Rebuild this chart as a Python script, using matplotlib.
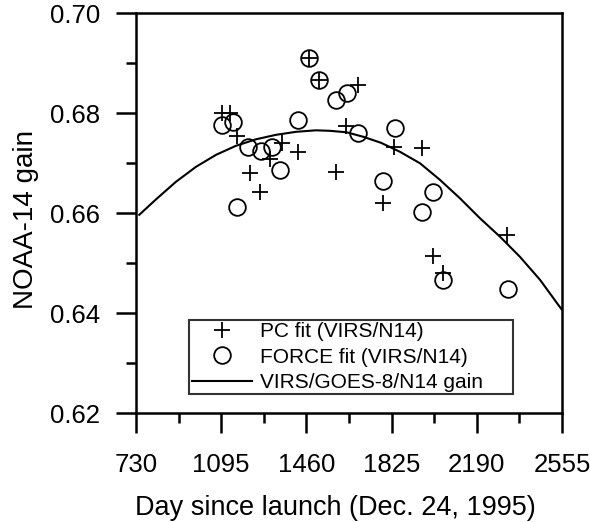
import matplotlib
matplotlib.use('Agg')
import matplotlib.pyplot as plt
from matplotlib.ticker import MultipleLocator

# PC fit (VIRS/N14)
pc_day = [1097, 1131, 1161, 1218, 1262, 1304, 1354, 1426, 1471, 1514,
          1588, 1628, 1680, 1790, 1836, 1955, 2003, 2047, 2320]
pc_gain = [0.6800, 0.6800, 0.6755, 0.6680, 0.6642, 0.6708, 0.6740, 0.6723, 0.6910, 0.6867,
           0.6683, 0.6774, 0.6857, 0.6620, 0.6732, 0.6731, 0.6515, 0.6481, 0.6556]

# FORCE fit (VIRS/N14)
force_day = [1097, 1144, 1161, 1211, 1264, 1311, 1347, 1423, 1471, 1514,
             1585, 1633, 1679, 1790, 1840, 1955, 2004, 2047, 2325]
force_gain = [0.6777, 0.6782, 0.6613, 0.6732, 0.6725, 0.6732, 0.6687, 0.6787, 0.6910, 0.6867,
              0.6827, 0.6840, 0.6761, 0.6664, 0.6771, 0.6603, 0.6643, 0.6467, 0.6448]

# VIRS/GOES-8/N14 gain curve
curve_day = [744, 816, 901, 987, 1073, 1158, 1244, 1330, 1416, 1501,
             1561, 1633, 1704, 1780, 1861, 1947, 2032, 2118, 2204, 2290,
             2375, 2461, 2539, 2555]
curve_gain = [0.6597, 0.6628, 0.6663, 0.6693, 0.6717, 0.6735, 0.6748, 0.6757, 0.6763, 0.6766,
              0.6765, 0.6762, 0.6753, 0.6741, 0.6723, 0.6700, 0.6667, 0.6630, 0.6590, 0.6553,
              0.6513, 0.6467, 0.6417, 0.6407]

x_ticks = [730, 1095, 1460, 1825, 2190, 2555]
y_ticks = [0.62, 0.64, 0.66, 0.68, 0.70]

plt.rcParams['font.family'] = ['Liberation Sans', 'DejaVu Sans']

fig = plt.figure(figsize=(5.9, 5.22), dpi=100)
ax = fig.add_axes([0.2305, 0.2082, 0.722, 0.7663])

ax.plot(curve_day, curve_gain, color='black', lw=1.5, label='VIRS/GOES-8/N14 gain')
ax.plot(pc_day, pc_gain, ls='none', marker='+', ms=11, mew=1.3, color='black',
        label='PC fit (VIRS/N14)')
ax.plot(force_day, force_gain, ls='none', marker='o', ms=12, mew=1.3, mfc='none',
        mec='black', label='FORCE fit (VIRS/N14)')

ax.set_xlim(730, 2555)
ax.set_ylim(0.62, 0.70)
ax.set_xticks(x_ticks)
ax.set_yticks(y_ticks)
ax.xaxis.set_minor_locator(MultipleLocator(182.5))
ax.yaxis.set_minor_locator(MultipleLocator(0.01))
ax.set_xticklabels([str(t) for t in x_ticks])
ax.set_yticklabels(['%.2f' % t for t in y_ticks])

ax.tick_params(which='major', direction='out', length=14.4, width=1.8, labelsize=18.5)
ax.tick_params(which='minor', direction='out', length=7.2, width=1.8)
ax.tick_params(axis='x', which='major', pad=14)
ax.tick_params(axis='y', which='major', pad=11.5)
ax.tick_params(top=False, right=False, which='both')
for s in ax.spines.values():
    s.set_linewidth(1.8)

ax.set_xlabel('Day since launch (Dec. 24, 1995)', fontsize=19.5, labelpad=13)
ax.xaxis.set_label_coords(0.467, -0.205, transform=ax.transAxes)
ax.xaxis.label.set_va('top')
ax.set_ylabel('NOAA-14 gain', fontsize=20, labelpad=8)
ax.yaxis.label.set_y(0.485)

h, l = ax.get_legend_handles_labels()
leg = ax.legend([h[1], h[2], h[0]], [l[1], l[2], l[0]], loc='lower left',
                bbox_to_anchor=(0.125, 0.0475, 0.759, 0.194), mode='expand',
                fontsize=15, frameon=True, fancybox=False, borderpad=0.12,
                labelspacing=0.3, handlelength=2.9, handletextpad=0.4,
                borderaxespad=0)
leg.get_frame().set_edgecolor('black')
leg.get_frame().set_linewidth(1.5)

fig.savefig('out.png', dpi=100)
